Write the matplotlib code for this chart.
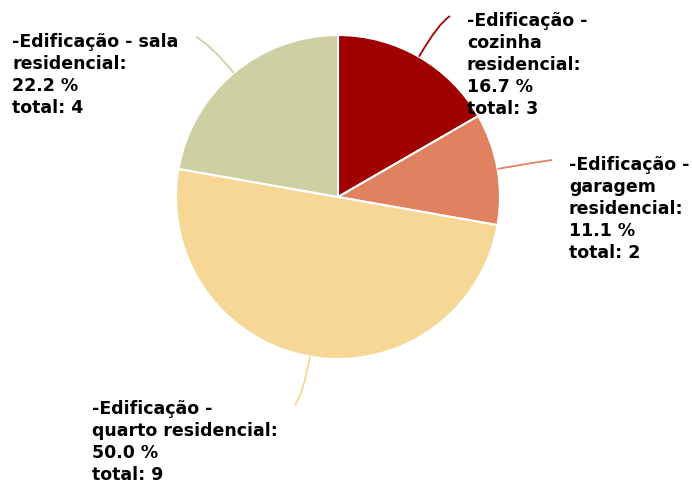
import matplotlib
matplotlib.use("Agg")
import matplotlib.pyplot as plt
import numpy as np
from matplotlib.path import Path
from matplotlib.patches import PathPatch

categories = [
    "-Edificação -\ncozinha\nresidencial:",
    "-Edificação -\ngaragem\nresidencial:",
    "-Edificação -\nquarto residencial:",
    "-Edificação - sala\nresidencial:",
]
totals = [3, 2, 9, 4]
colors = ["#a00000", "#e0825f", "#f7d795", "#cfcfa4"]

# label anchor (top-left of text block) and connector end, in pixels from top-left
label_pos = [(467, 12), (569, 156), (92, 400), (12, 33)]
line_end = [(450, 16), (552, 160), (295, 405), (196, 37)]

W, H = 692, 482
cx, cy, R = 338, 197, 162

fig = plt.figure(figsize=(W / 100, H / 100), dpi=100)
ax = fig.add_axes([0, 0, 1, 1])

wedges, _ = ax.pie(
    totals, colors=colors, startangle=90, counterclock=False,
    center=(cx, H - cy), radius=R,
    wedgeprops=dict(edgecolor="white", linewidth=1.5),
)
ax.set_xlim(0, W)
ax.set_ylim(0, H)
ax.set_aspect("equal")
ax.axis("off")

total_sum = sum(totals)
for w, cat, t, lp, le, col in zip(wedges, categories, totals, label_pos, line_end, colors):
    mid = np.deg2rad((w.theta1 + w.theta2) / 2)
    sx, sy = cx + R * np.cos(mid), (H - cy) + R * np.sin(mid)
    ctrl_r = R + 38
    qx, qy = cx + ctrl_r * np.cos(mid), (H - cy) + ctrl_r * np.sin(mid)
    ex, ey = le[0], H - le[1]
    path = Path([(sx, sy), (qx, qy), (ex, ey)], [Path.MOVETO, Path.CURVE3, Path.CURVE3])
    ax.add_patch(PathPatch(path, facecolor="none", edgecolor=col, linewidth=1.3))
    pct = 100 * t / total_sum
    txt = f"{cat}\n{pct:.1f} %\ntotal: {t}"
    ax.text(lp[0], H - lp[1], txt, ha="left", va="top", fontsize=12.5,
            fontweight="bold", family="DejaVu Sans", linespacing=1.29, color="black")

fig.savefig("out.png", dpi=100)
